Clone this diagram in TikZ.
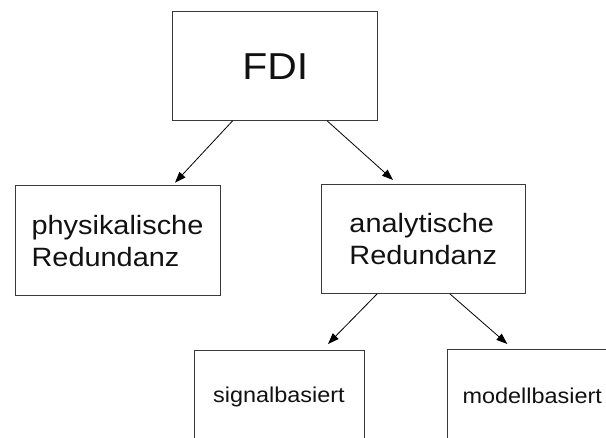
\documentclass[tikz,border=0pt]{standalone}
\usepackage{fontspec}
\setmainfont{Liberation Sans}
\usetikzlibrary{arrows.meta,calc}
\definecolor{boxline}{HTML}{3A3A3A}
\definecolor{ink}{HTML}{111111}
% slightly widened lettering
\newcommand{\wide}[1]{\scalebox{1.09}[1]{#1}}
\newcommand{\twolines}[2]{\wide{\vbox{\baselineskip=32pt\hbox{#1}\hbox{#2}}}}

\begin{document}
\begin{tikzpicture}[x=1pt,y=-1pt,
  box/.style={draw=boxline, line width=1pt, inner sep=0pt, outer sep=0pt,
              anchor=north west, text=ink},
  big/.style={font=\fontsize{37.5}{44}\selectfont},
  mid/.style={font=\fontsize{26.5}{32}\selectfont},
  small/.style={font=\fontsize{21.5}{26}\selectfont},
  link/.style={draw=black, line width=0.8pt,
               -{Triangle[length=11pt,width=8pt]}}]
\useasboundingbox (0,0) rectangle (606,438);
\clip (0,0) rectangle (606,438);

% boxes
\node[box, big, minimum width=205pt, minimum height=109pt] (fdi) at (172.7,11.7) {\wide{FDI}};
\node[box, mid, minimum width=205pt, minimum height=110pt] (phys) at (15,186)
  {\twolines{physikalische}{Redundanz}};
\node[box, mid, minimum width=204.7pt, minimum height=109pt] (ana) at (321,185)
  {\twolines{analytische}{Redundanz}};
\node[box, small, minimum width=170pt, minimum height=92pt] (sig) at (194,351) {\wide{signalbasiert}};
\node[box, small, minimum width=170pt, minimum height=92pt] (mod) at (447.3,350) {\wide{modellbasiert}};

% arrow tips just above the target boxes
\coordinate (tphys) at ($(phys.north west)+(160,-3.3)$);
\coordinate (tana)  at ($(ana.north west)+(72,-5)$);
\coordinate (tsig)  at ($(sig.north west)+(134,-7)$);
\coordinate (tmod)  at ($(mod.north west)+(60,-6)$);

% connectors
\draw[link] ($(fdi.south west)+(60,0)$) -- (tphys);
\draw[link] ($(fdi.south west)+(154.3,0)$) -- (tana);
\draw[link] ($(ana.south west)+(56,0)$) -- (tsig);
\draw[link] ($(ana.south west)+(129,0)$) -- (tmod);
\end{tikzpicture}
\end{document}
